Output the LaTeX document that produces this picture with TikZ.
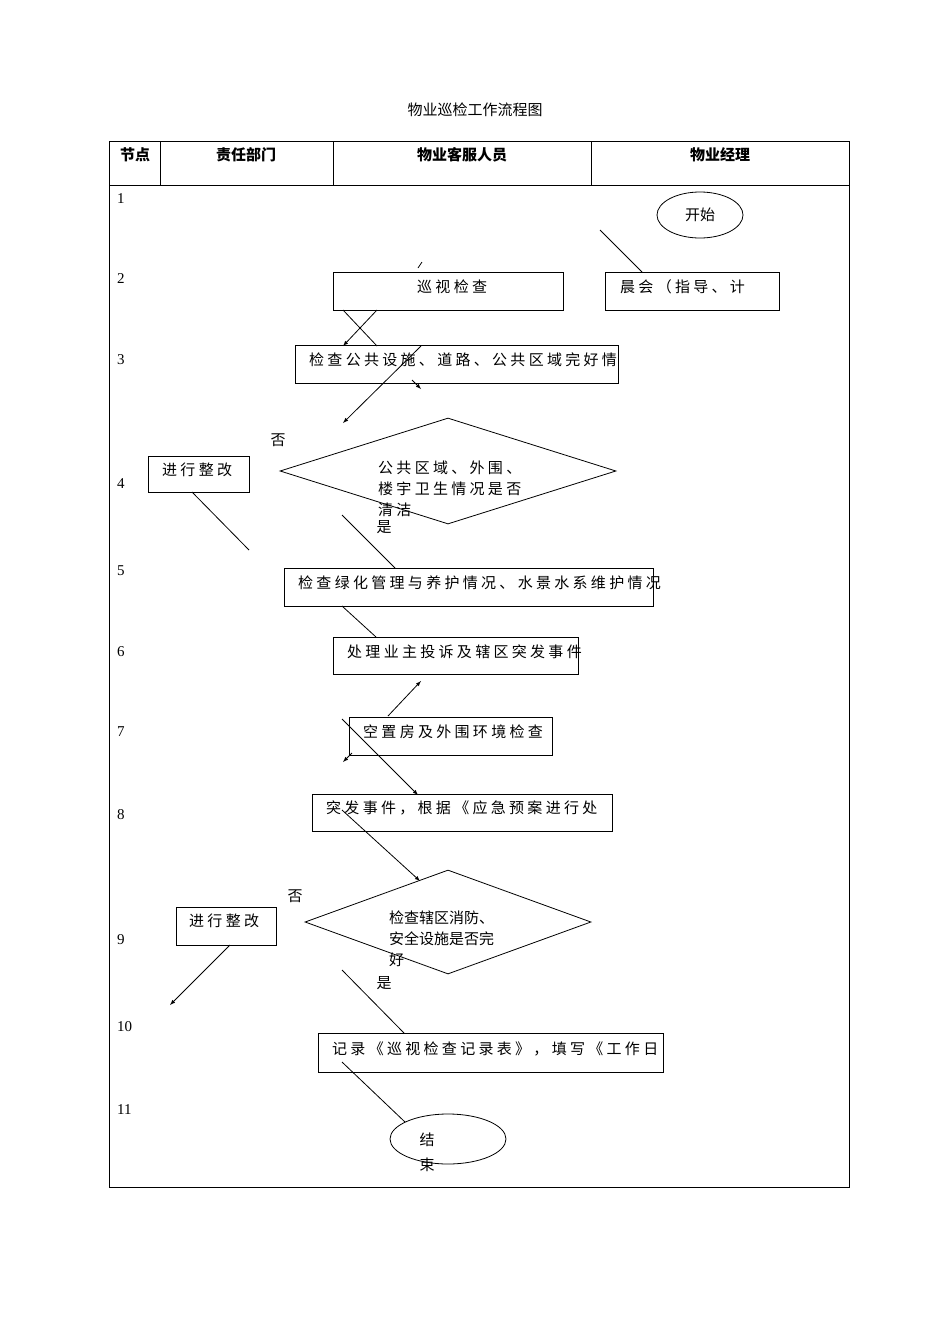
\documentclass[tikz,border=0pt]{standalone}
\usepackage{fontspec}
\setmainfont{Liberation Serif}
\newfontfamily\cjk{Noto Sans CJK SC}
\newfontfamily\cjksp{Noto Sans CJK SC}[LetterSpace=22]
\usetikzlibrary{shapes.geometric}
\tikzset{
  box/.style={draw, thick, minimum height=38pt, inner sep=0pt},
  txt/.style={font=\fontsize{15}{17}\selectfont\cjksp, anchor=west, inner sep=0pt},
  lbl/.style={font=\fontsize{15}{17}\selectfont\cjk, inner sep=0pt},
  hd/.style={font=\fontsize{15}{17}\selectfont\cjk\bfseries, inner sep=0pt},
  num/.style={font=\fontsize{15}{17}\selectfont, anchor=west, inner sep=0pt},
  arr/.style={-latex, thick},
  ln/.style={thick}
}
\begin{document}
\begin{tikzpicture}[x=1pt,y=-1pt]
    \useasboundingbox (0,0) rectangle (950,1344);
    \node[lbl] (title) at (475,110) {物业巡检工作流程图};
    % table
    \draw[thick] (109,141) rectangle (849,1187);
    \draw[thick] (109,185) -- (849,185);
    \foreach \cx in {160,333,591} \draw[thick] (\cx,141) -- (\cx,185);
    \node[hd] (h1) at (135,155) {节点};
    \node[hd] (h2) at (246,155) {责任部门};
    \node[hd] (h3) at (462,155) {物业客服人员};
    \node[hd] (h4) at (720,155) {物业经理};
    \foreach \n/\ny in {1/199,2/279,3/360,4/484,5/571,6/652,7/732,8/815,9/940,10/1027,11/1110}
      \node[num] at (117,\ny) {\n};
    % nodes
    \node[draw, thick, ellipse, minimum width=86pt, minimum height=46pt, lbl] (start) at (700,215) {开始};
    \draw[thick] (333,272) rectangle (563,310) coordinate (b1);
    \node[txt] (patrol) at (417,287) {巡视检查};
    \draw[thick] (605,272) rectangle (779,310);
    \node[txt] (meet) at (620,287) {晨会（指导、计};
    \draw[thick] (295,345) rectangle (618,383);
    \node[txt] (facil) at (309,360) {检查公共设施、道路、公共区域完好情};
    \node[draw, thick, diamond, aspect=3.2, minimum width=336pt, minimum height=106pt] (dia1) at (448,471) {};
    \node[txt, align=left, font=\fontsize{15}{21}\selectfont\cjksp] (q1) at (378,489) {公共区域、外围、\\楼宇卫生情况是否\\清洁};
    \node[lbl] (no1) at (278,440) {否};
    \node[lbl] (yes1) at (384,527) {是};
    \draw[thick] (148,456) rectangle (249,492);
    \node[txt] (fix1) at (162,470) {进行整改};
    \draw[thick] (284,568) rectangle (653,606);
    \node[txt] (green) at (298,583) {检查绿化管理与养护情况、水景水系维护情况};
    \draw[thick] (333,637) rectangle (578,674);
    \node[txt] (compl) at (347,652) {处理业主投诉及辖区突发事件};
    \draw[thick] (349,717) rectangle (552,755);
    \node[txt] (vacant) at (363,732) {空置房及外围环境检查};
    \draw[thick] (312,794) rectangle (612,831);
    \node[txt] (emerg) at (326,808) {突发事件，根据《应急预案进行处};
    \node[draw, thick, diamond, aspect=2.75, minimum width=286pt, minimum height=104pt] (dia2) at (448,922) {};
    \node[txt, align=left, font=\fontsize{15}{21}\selectfont\cjk] (q2) at (389,939) {检查辖区消防、\\安全设施是否完\\好};
    \node[lbl] (no2) at (295,896) {否};
    \node[lbl] (yes2) at (384,983) {是};
    \draw[thick] (176,907) rectangle (276,945);
    \node[txt] (fix2) at (189,921) {进行整改};
    \draw[thick] (318,1033) rectangle (663,1072);
    \node[txt] (record) at (332,1049) {记录《巡视检查记录表》，填写《工作日};
    \node[draw, thick, ellipse, minimum width=116pt, minimum height=50pt] (end) at (448,1139) {};
    \node[lbl, align=center, font=\fontsize{15}{25}\selectfont\cjk] (endt) at (427,1152) {结\\束};
    % connectors
    \coordinate (c1) at (600,230); \coordinate (c2) at (642,272);
    \draw[ln] (c1) -- (c2);
    \draw[ln] (418,268) -- (422,262);
    \draw[ln] (343,310) -- (377,346);
    \draw[arr] (377,310) -- (343,346);
    \draw[arr] (421,346) -- (343,423);
    \draw[arr] (412,380) -- (421,389);
    \draw[ln] (192,492) -- (249,550);
    \draw[ln] (342,515) -- (395,568);
    \draw[ln] (342,606) -- (376,637);
    \draw[arr] (388,716) -- (421,681);
    \draw[arr] (352,753) -- (343,762);
    \draw[arr] (342,719) -- (418,795);
    \draw[arr] (342,810) -- (420,881);
    \draw[arr] (230,945) -- (170,1005);
    \draw[ln] (342,970) -- (404,1033);
    \draw[ln] (342,1062) -- (405,1122);
\end{tikzpicture}
\end{document}
